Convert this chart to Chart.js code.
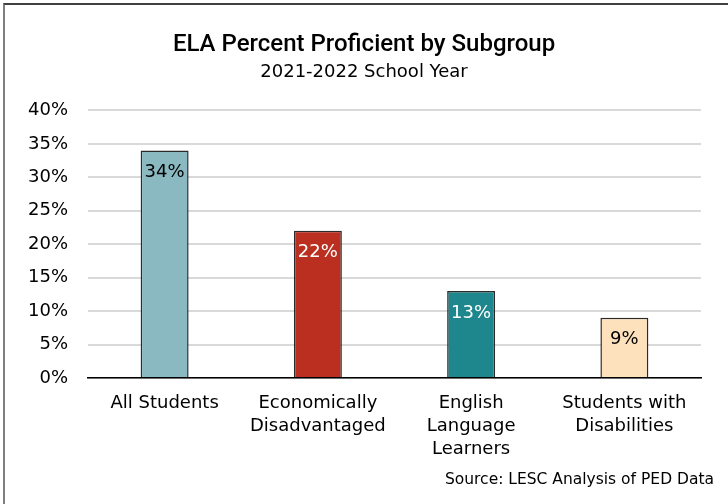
<!DOCTYPE html>
<html>
<head>
<meta charset="utf-8">
<script src="https://cdn.jsdelivr.net/npm/chart.js@4.4.1/dist/chart.umd.min.js"></script>
<style>
    html, body { margin: 0; padding: 0; background: #fff; }
    #wrap { position: relative; width: 728px; height: 504px; }
    #frame {
        position: absolute; left: 3px; top: 3px; right: 0; bottom: 0;
        border-top: 2px solid #404040;
        border-left: 2px solid #808080;
        pointer-events: none;
    }
</style>
</head>
<body>
<div id="wrap">
    <canvas id="elaChart" width="728" height="504"></canvas>
    <div id="frame"></div>
</div>
<script>
const categories = [
    ['All Students'],
    ['Economically', 'Disadvantaged'],
    ['English', 'Language', 'Learners'],
    ['Students with', 'Disabilities']
];
const proficient = [34, 22, 13, 9];
const yTickValues = [0, 5, 10, 15, 20, 25, 30, 35, 40];

const barColors = ['#8AB9C1', '#BA2F20', '#1E878D', '#FDE0BC'];
const labelColors = ['#000000', '#ffffff', '#ffffff', '#000000'];

const baseFont = 'DejaVu Sans';

// value printed just inside the top of each bar
const barValueLabels = {
    id: 'barValueLabels',
    afterDatasetsDraw(chart) {
        const ctx = chart.ctx;
        const meta = chart.getDatasetMeta(0);
        ctx.save();
        ctx.font = '18px "' + baseFont + '"';
        ctx.textAlign = 'center';
        ctx.textBaseline = 'middle';
        meta.data.forEach(function (bar, i) {
            ctx.fillStyle = labelColors[i];
            ctx.fillText(proficient[i] + '%', bar.x, bar.y + 22);
        });
        ctx.restore();
    }
};

// source note in the bottom right corner
const sourceNote = {
    id: 'sourceNote',
    afterDraw(chart) {
        const ctx = chart.ctx;
        ctx.save();
        ctx.font = '15.5px "' + baseFont + '"';
        ctx.fillStyle = '#000';
        ctx.textAlign = 'right';
        ctx.textBaseline = 'middle';
        ctx.fillText('Source: LESC Analysis of PED Data', 714, 480);
        ctx.restore();
    }
};

const ctx = document.getElementById('elaChart').getContext('2d');
const elaChart = new Chart(ctx, {
    type: 'bar',
    data: {
        labels: categories,
        datasets: [{
            data: proficient,
            backgroundColor: barColors,
            borderColor: '#2b2b2b',
            borderWidth: 1.5,
            categoryPercentage: 1,
            barPercentage: 0.313
        }]
    },
    options: {
        responsive: false,
        animation: false,
        layout: {
            padding: { top: 0, left: 0, right: 0, bottom: 29 }
        },
        plugins: {
            legend: { display: false },
            tooltip: { enabled: false },
            title: {
                display: true,
                text: 'ELA Percent Proficient by Subgroup',
                color: '#000',
                font: { family: 'Roboto', size: 24, weight: '500' },
                padding: { top: 31, bottom: 2 }
            },
            subtitle: {
                display: true,
                text: '2021-2022 School Year',
                color: '#000',
                font: { family: baseFont, size: 18 },
                padding: { top: 0, bottom: 27 }
            }
        },
        scales: {
            x: {
                grid: { display: false, drawTicks: false },
                border: { color: '#000', width: 1.5 },
                ticks: {
                    color: '#000',
                    padding: 14,
                    maxRotation: 0,
                    font: { family: baseFont, size: 18, lineHeight: 23 / 18 }
                }
            },
            y: {
                min: 0,
                max: 40,
                afterFit: function (scale) { scale.width = 88; },
                afterBuildTicks: function (scale) {
                    scale.ticks = yTickValues.map(v => ({ value: v }));
                },
                grid: { color: '#d9d9d9', lineWidth: 2, drawTicks: false },
                border: { display: false },
                ticks: {
                    color: '#000',
                    padding: 20,
                    font: { family: baseFont, size: 18 },
                    callback: function (value) {
                        return value + '%';
                    }
                }
            },
            // empty right-hand strip so the plot ends short of the edge
            yRight: {
                position: 'right',
                afterFit: function (scale) { scale.width = 27; },
                grid: { display: false, drawTicks: false },
                border: { display: false },
                ticks: { display: false }
            }
        }
    },
    plugins: [barValueLabels, sourceNote]
});
</script>
</body>
</html>
